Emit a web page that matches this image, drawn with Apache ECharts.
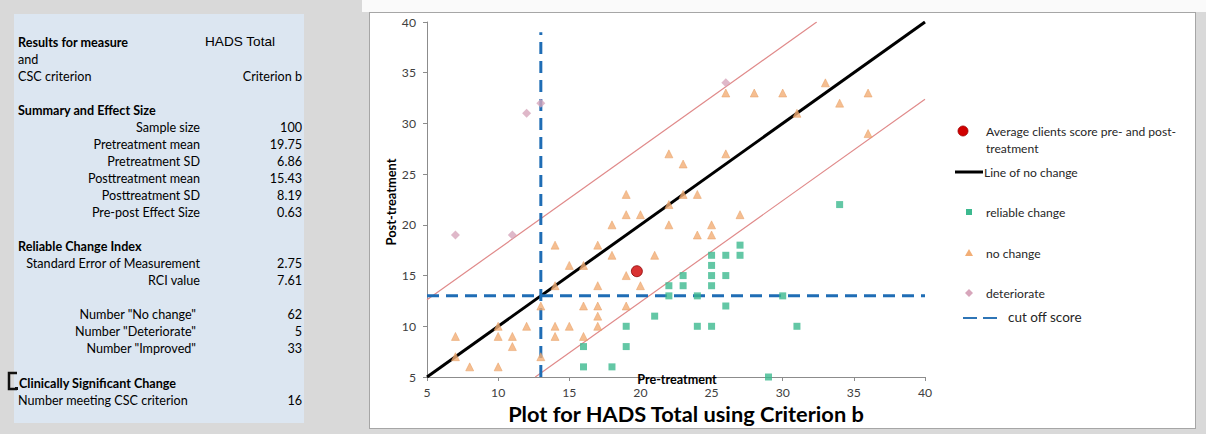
<!DOCTYPE html>
<html><head><meta charset="utf-8">
<script src="https://cdn.jsdelivr.net/npm/echarts@6.0.0/dist/echarts.min.js"></script>
<style>
html,body{margin:0;padding:0;background:#d9d9d9;width:1206px;height:434px;overflow:hidden;}
#topwhite{position:absolute;left:362px;top:0;width:844px;height:12px;background:#fafafa;}
#box{position:absolute;left:369px;top:12px;width:825px;height:415px;background:#fff;border:1.5px solid #a6a6a6;}
#panel{position:absolute;left:14px;top:14px;width:290px;height:409px;background:#dce6f1;}
#c{position:absolute;left:0;top:0;width:1206px;height:434px;}
</style>
</head><body>
<div id="topwhite"></div><div id="box"></div><div id="panel"></div>
<div id="c"></div>
<script>
// ---- data ----
const axisTicks = [5, 10, 15, 20, 25, 30, 35, 40];
const reliableChange = [[16,8],[16,6],[18,6],[19,10],[19,8],[21,11],[22,14],[22,13],[23,15],[23,14],[24,13],[24,10],[25,17],[25,16],[25,15],[25,14],[25,10],[26,17],[26,15],[26,12],[27,18],[27,17],[29,5],[30,13],[31,10],[34,22]];
const noChange = [[7,9],[7,7],[8,6],[10,10],[10,9],[10,6],[11,9],[11,8],[12,10],[13,12],[13,7],[14,18],[14,14],[14,10],[14,9],[15,16],[15,10],[16,16],[16,12],[16,9],[17,18],[17,14],[17,12],[17,11],[17,10],[18,20],[18,17],[19,23],[19,21],[19,15],[19,12],[20,21],[20,14],[21,17],[22,27],[22,22],[22,20],[23,26],[23,23],[24,23],[24,19],[25,20],[25,19],[26,33],[26,27],[27,21],[28,33],[30,33],[31,31],[33,34],[34,32],[36,33],[36,29]];
const deteriorate = [[7,19],[11,19],[12,31],[13,32],[26,34]];
const averageScore = [[19.75,15.43]];
const lineNoChange = [[5,5],[40,40]];
const upperBand = [[5,12.61],[32.39,40]];
const lowerBand = [[12.61,5],[40,32.39]];
const cutoffH = [[5,13],[40,13]];
const cutoffV = [[13,5],[13,39]];

const headerRows = [['Results for measure','HADS Total'],['and',''],['CSC criterion','Criterion b']];
const summaryLabels = ['Sample size','Pretreatment mean','Pretreatment SD','Posttreatment mean','Posttreatment SD','Pre-post Effect Size'];
const summaryValues = ['100','19.75','6.86','15.43','8.19','0.63'];
const rciLabels = ['Standard Error of Measurement','RCI value'];
const rciValues = ['2.75','7.61'];
const countLabels = ['Number "No change"','Number "Deteriorate"','Number "Improved"'];
const countValues = ['62','5','33'];
const cscLabels = ['Number meeting CSC criterion'];
const cscValues = ['16'];
const legendNames = ['Average clients score pre- and post-','treatment','Line of no change','reliable change','no change','deteriorate','cut off score'];
const chartTitle = 'Plot for HADS Total using Criterion b';

// ---- build ----
const F = 'Lato, "Noto Sans", sans-serif';
const PF = '12.6px ' + F, PB = 'bold 12.6px ' + F;
const g = [];
function txt(t, x, y, opt) {
  opt = opt || {};
  const st = {text:t, x:0, y:0, font:(opt.font || PF), fill:opt.fill || '#000',
      align: opt.align || 'left', verticalAlign:'middle', textAlign: opt.align || 'left', textVerticalAlign:'middle'};
  if (opt.lh) st.lineHeight = opt.lh;
  g.push({type:'text', x:x, y:y, rotation: opt.rot || 0, z: 50, silent:true, style:st});
}
// left panel
txt(headerRows[0][0], 18, 42, {font:PB});
txt(headerRows[0][1], 205, 41, {font:'13.6px "Liberation Sans", Arial, sans-serif'});
txt(headerRows[1][0], 18, 59);
txt(headerRows[2][0], 18, 76);
txt(headerRows[2][1], 302, 76, {align:'right'});
txt('Summary and Effect Size', 18, 110, {font:PB});
summaryLabels.forEach((l,i)=>{ txt(l, 200, 127 + i*17, {align:'right'}); txt(summaryValues[i], 302, 127 + i*17, {align:'right'}); });
txt('Reliable Change Index', 18, 246, {font:PB});
rciLabels.forEach((l,i)=>{ txt(l, 200, 263 + i*17, {align:'right'}); txt(rciValues[i], 302, 263 + i*17, {align:'right'}); });
countLabels.forEach((l,i)=>{ txt(l, 196, 314 + i*17, {align:'right'}); txt(countValues[i], 302, 314 + i*17, {align:'right'}); });
txt('Clinically Significant Change', 19, 383, {font:PB});
cscLabels.forEach((l,i)=>{ txt(l, 18, 400, {}); txt(cscValues[i], 302, 400, {align:'right'}); });
// cell cursor mark
g.push({type:'polyline', z:50, silent:true, shape:{points:[[17,373],[9,373],[9,389],[17,389]]}, style:{stroke:'#111', lineWidth:2.5, fill:null}});
g.push({type:'rect', z:50, silent:true, shape:{x:15, y:387, width:3, height:3}, style:{fill:'#111'}});

// axis names & title
txt('Post-treatment', 391, 202, {font:'bold 12.8px ' + F, align:'center', rot: Math.PI/2});
txt('Pre-treatment', 677, 379, {font:'bold 12.6px ' + F, align:'center', lh:13});
txt(chartTitle, 686, 413, {font:'bold 21.8px ' + F, align:'center', lh:21});

// legend
const LF = '12.1px ' + F, LC = '#262626';
g.push({type:'circle', z:50, silent:true, shape:{cx:963, cy:131, r:5}, style:{fill:'#d10000', stroke:'#900', lineWidth:0.8}});
txt(legendNames[0], 986, 131, {font:LF, fill:LC});
txt(legendNames[1], 986, 148, {font:LF, fill:LC});
g.push({type:'line', z:50, silent:true, shape:{x1:955, y1:172, x2:983, y2:172}, style:{stroke:'#000', lineWidth:3}});
txt(legendNames[2], 984, 172, {font:LF, fill:LC});
g.push({type:'rect', z:50, silent:true, shape:{x:966, y:209, width:6, height:6}, style:{fill:'#3cb98f'}});
txt(legendNames[3], 986, 212, {font:LF, fill:LC});
g.push({type:'polygon', z:50, silent:true, shape:{points:[[969,249],[973,256],[965,256]]}, style:{fill:'#f2ae76'}});
txt(legendNames[4], 986, 253, {font:LF, fill:LC});
g.push({type:'polygon', z:50, silent:true, shape:{points:[[969,289],[973,293],[969,297],[965,293]]}, style:{fill:'#d7a6bb'}});
txt(legendNames[5], 986, 293, {font:LF, fill:LC});
g.push({type:'line', z:50, silent:true, shape:{x1:963, y1:318, x2:1000, y2:318}, style:{stroke:'#2e75b6', lineWidth:2, lineDash:[14,6]}});
txt(legendNames[6], 1008, 317, {font:'13.5px ' + F, fill:LC});

const axisCommon = {
  type:'value', min:5, max:40, interval:5,
  splitLine:{show:false},
  axisLine:{show:true, lineStyle:{color:'#8c8c8c', width:1}},
  axisTick:{show:true, inside:false, length:4, lineStyle:{color:'#8c8c8c'}},
  axisLabel:{color:'#404040', fontFamily:F, fontSize:12.2, lineHeight:13,
    customValues: axisTicks}
};
function lineS(data, color, width, dash) {
  return {type:'line', data:data, symbol:'none', silent:true, z:2,
    lineStyle:{color:color, width:width, type: dash ? [12,7] : 'solid', cap:'butt'}};
}
const chart = echarts.init(document.getElementById('c'), null, {renderer:'svg'});
chart.setOption({
  animation:false,
  backgroundColor:'transparent',
  grid:{left:427, top:22, width:498, height:355, containLabel:false},
  xAxis: Object.assign({}, axisCommon, {axisLabel:Object.assign({}, axisCommon.axisLabel, {margin:9})}),
  yAxis: Object.assign({}, axisCommon, {axisLabel:Object.assign({}, axisCommon.axisLabel, {margin:11})}),
  series:[
    lineS(upperBand, '#e08a8a', 1.2),
    lineS(lowerBand, '#e08a8a', 1.2),
    lineS(lineNoChange, '#000', 3),
    lineS(cutoffH, '#1f6db5', 3, true),
    lineS(cutoffV, '#1f6db5', 3, true),
    {type:'scatter', name:'reliable change', data:reliableChange, symbol:'rect', symbolSize:7, z:3,
      itemStyle:{color:'#3cb98f'}},
    {type:'scatter', name:'no change', data:noChange, symbol:'triangle', symbolSize:8, z:3,
      itemStyle:{color:'#f2ae76', borderColor:'#e69a5c', borderWidth:0.6}},
    {type:'scatter', name:'deteriorate', data:deteriorate, symbol:'diamond', symbolSize:9, z:3,
      itemStyle:{color:'#d7a6bb'}},
    {type:'scatter', name:'Average clients score pre- and post-treatment', data:averageScore, symbol:'circle', symbolSize:11, z:4,
      itemStyle:{color:'#d10000', borderColor:'#8b0000', borderWidth:1}}
  ],
  graphic: g
});
</script>
</body></html>
